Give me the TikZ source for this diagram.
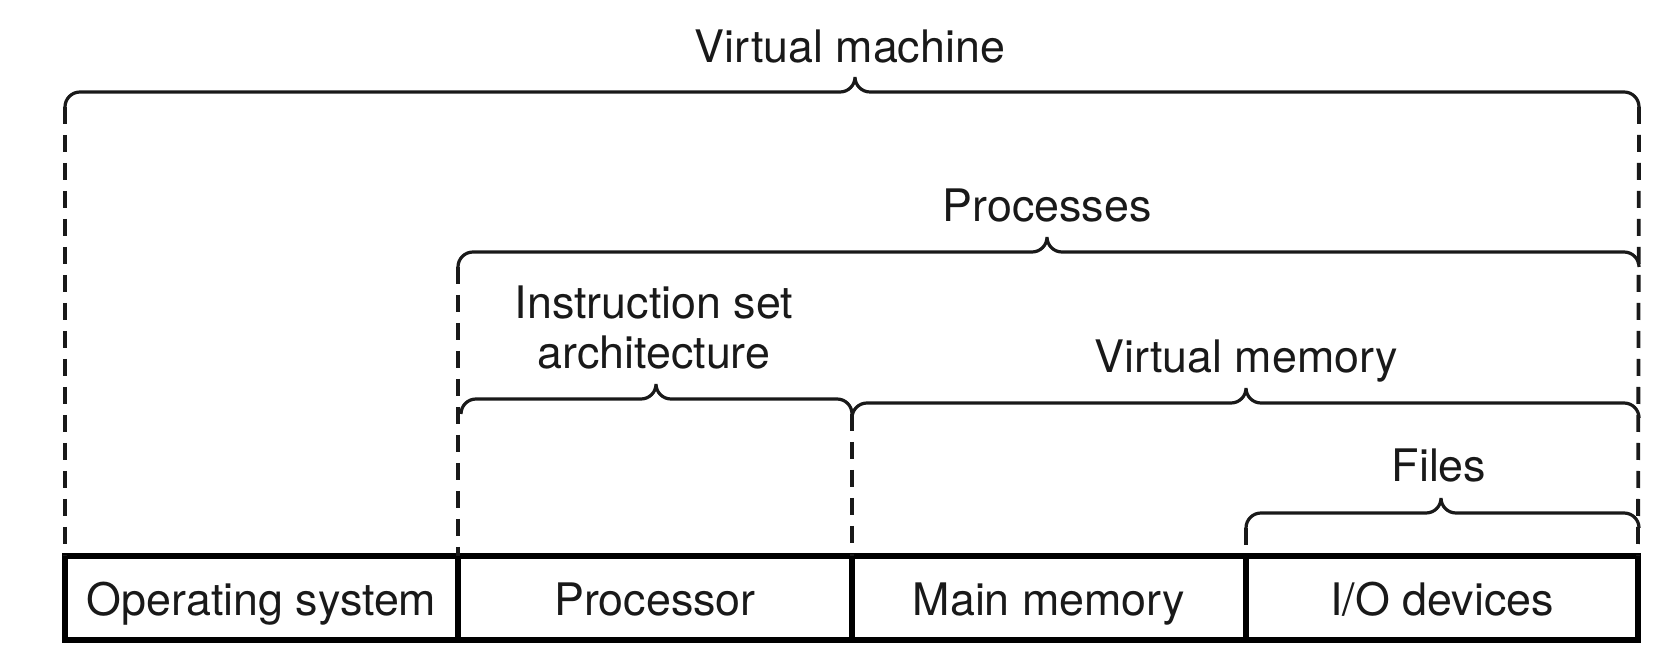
\documentclass[tikz,border=0pt]{standalone}
\usepackage{fontspec}
\setmainfont{TeX Gyre Heros}
\newcommand\mybrc[4]{% x0, x1, xm, y
  \draw[bracestyle] (#1,{#4+15}) .. controls (#1,{#4+6.7}) and ({#1+6.7},#4) .. ({#1+15},#4)
    -- ({#3-15},#4) .. controls ({#3-6.7},#4) and (#3,{#4-6.7}) .. (#3,{#4-15})
    .. controls (#3,{#4-6.7}) and ({#3+6.7},#4) .. ({#3+15},#4)
    -- ({#2-15},#4) .. controls ({#2-6.7},#4) and (#2,{#4+6.7}) .. (#2,{#4+15});
}
\begin{document}
\begin{tikzpicture}[x=0.5pt,y=-0.5pt,
  cell/.style={draw, line width=2.7pt, inner sep=0pt, outer sep=0pt,
    minimum height=42pt, text height=17pt, text depth=0pt,
    font=\fontsize{22.4}{24}\selectfont, text=black!90},
  lbl/.style={inner sep=0pt, font=\fontsize{22.4}{25}\selectfont, align=center, text=black!90},
  bracestyle/.style={line width=1.6pt, draw=black!90},
  dashline/.style={line width=1.9pt, draw=black!90, dash pattern=on 8.5pt off 5.5pt}]
\useasboundingbox (0,0) rectangle (1659,667);
% cells
\node[cell, minimum width=196.5pt] (os) at (261.5,598) {Operating system};
\node[cell, minimum width=197pt] (proc) at (655,598) {Processor};
\node[cell, minimum width=197pt] (mem) at (1049,598) {Main memory};
\node[cell, minimum width=196pt] (io) at (1442,598) {I/O devices};
% braces
\mybrc{65}{1639}{855}{92}
\mybrc{458}{1639}{1047}{252}
\mybrc{461}{852}{656}{399}
\mybrc{852}{1639}{1246}{403}
\mybrc{1246}{1639}{1441}{513}
% brace end coordinates
\coordinate (vmL) at (65,107);
\coordinate (vmR) at (1639,107);
\coordinate (prL) at (458,267);
\coordinate (isR) at (852,414);
\coordinate (fiL) at (1246,528);
% dashed lines
\draw[dashline] (vmL) -- (os.north west);
\draw[dashline] (vmR) -- (io.north east);
\draw[dashline] (prL) -- (proc.north west);
\draw[dashline] (isR) -- (mem.north west);
\draw[dashline] (fiL) -- (io.north west);
% labels
\node[lbl] (lvm) at (850,47) {Virtual machine};
\node[lbl] (lpr) at (1047,206) {Processes};
\node[lbl] (lis) at (654,328) {Instruction set\\architecture};
\node[lbl] (lvmem) at (1246,361) {Virtual memory};
\node[lbl] (lfi) at (1439,466) {Files};
\end{tikzpicture}
\end{document}
